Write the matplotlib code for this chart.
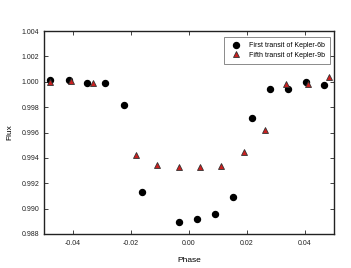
import matplotlib
matplotlib.use("Agg")
import matplotlib.pyplot as plt

plt.rcParams['font.family'] = ['Liberation Sans', 'DejaVu Sans']

# First transit of Kepler-6b (circles)
phase6 = [-0.0478, -0.0413, -0.0351, -0.0288, -0.0225, -0.0162, -0.0035, 0.0026,
          0.0089, 0.0152, 0.0216, 0.0278, 0.0341, 0.0404, 0.0467]
flux6 = [1.0001, 1.0001, 0.99993, 0.99993, 0.9982, 0.9913, 0.98896, 0.98922,
         0.98959, 0.99091, 0.99713, 0.99946, 0.99941, 0.99996, 0.99975]

# Fifth transit of Kepler-9b (triangles)
phase9 = [-0.0478, -0.0406, -0.0330, -0.0183, -0.0110, -0.0035, 0.0039, 0.0112,
          0.0188, 0.0261, 0.0334, 0.0410, 0.0483]
flux9 = [0.99996, 1.00004, 0.99988, 0.99424, 0.99343, 0.99327, 0.99327, 0.99335,
         0.99450, 0.99620, 0.99980, 0.99985, 1.00035]

xticks = [-0.04, -0.02, 0.00, 0.02, 0.04]
xticklabels = ['-0.04', '-0.02', '0.00', '0.02', '0.04']
yticks = [0.988, 0.990, 0.992, 0.994, 0.996, 0.998, 1.000, 1.002, 1.004]
yticklabels = ['0.988', '0.990', '0.992', '0.994', '0.996', '0.998', '1.000', '1.002', '1.004']

fig = plt.figure(figsize=(3.51, 2.68), dpi=100)
ax = fig.add_axes([44/351, 1 - 234/268, (334-44)/351, (234-31)/268])

ax.plot(phase6, flux6, linestyle='none', marker='o', markersize=4.3,
        color='black', markeredgecolor='black', label='First transit of Kepler-6b')
ax.plot(phase9, flux9, linestyle='none', marker='^', markersize=3.8,
        color='#cc1f1f', markeredgecolor='#333333', markeredgewidth=0.6,
        label='Fifth transit of Kepler-9b')

ax.set_xlim(-0.05, 0.05)
ax.set_ylim(0.988, 1.004)
ax.set_xticks(xticks)
ax.set_xticklabels(xticklabels)
ax.set_yticks(yticks)
ax.set_yticklabels(yticklabels)
ax.tick_params(direction='in', top=True, right=True, length=3, width=0.6,
               labelsize=5, colors='#222222')
ax.tick_params(axis='y', pad=3.5)
ax.tick_params(axis='x', pad=4.5)
for s in ax.spines.values():
    s.set_linewidth(1.0)
    s.set_color('#222222')

ax.set_xlabel('Phase', fontsize=6, labelpad=7)
ax.set_ylabel('Flux', fontsize=6, labelpad=6)

leg = ax.legend(loc='upper right', bbox_to_anchor=(0.985, 0.97), fontsize=5,
                frameon=True, fancybox=False, edgecolor='#555555',
                handletextpad=0.8, borderpad=0.7, labelspacing=0.4,
                borderaxespad=0)
leg.get_frame().set_linewidth(0.6)

fig.savefig('out.png', dpi=100)
